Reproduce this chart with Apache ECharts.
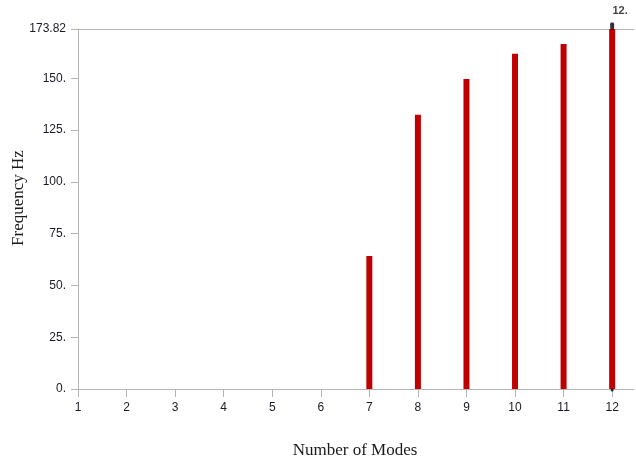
<!DOCTYPE html>
<html>
<head>
<meta charset="utf-8">
<script src="https://cdn.jsdelivr.net/npm/echarts@6/dist/echarts.min.js"></script>
<style>html,body{margin:0;padding:0;background:#fff;}#c{width:636px;height:464px;}</style>
</head>
<body>
<div id="c"></div>
<script>
const modes = [1, 2, 3, 4, 5, 6, 7, 8, 9, 10, 11, 12];
const frequencies = [0, 0, 0, 0, 0, 0, 64.2, 132.4, 149.7, 161.9, 166.6, 173.82];
const yTicks = [0, 25, 50, 75, 100, 125, 150, 173.82];
const yTickLabels = ['0.', '25.', '50.', '75.', '100.', '125.', '150.', '173.82'];
const selectedMode = 12;

const chart = echarts.init(document.getElementById('c'), null, {renderer: 'canvas'});
const axisColor = '#b4b4b4';
const labelFont = {fontFamily: 'Liberation Sans', fontSize: 12, color: '#1a1a26'};
const barData = modes.map((m, i) => [m, frequencies[i]]);
const selIdx = modes.indexOf(selectedMode);

chart.setOption({
  animation: false,
  grid: {left: 78, right: 2, top: 29, bottom: 75},
  xAxis: [{
    type: 'value', min: 1, max: 12.45, position: 'bottom',
    axisLine: {show: true, lineStyle: {color: axisColor, width: 1}},
    axisTick: {show: true, length: 8, lineStyle: {color: axisColor}, customValues: modes},
    axisLabel: Object.assign({customValues: modes, margin: 13, formatter: v => String(v)}, labelFont),
    splitLine: {show: false}
  }, {
    type: 'value', min: 1, max: 12.45, position: 'top',
    axisLine: {show: true, onZero: false, lineStyle: {color: axisColor, width: 1}},
    axisTick: {show: false}, axisLabel: {show: false}, splitLine: {show: false}
  }],
  yAxis: {
    type: 'value', min: 0, max: 173.82,
    axisLine: {show: true, lineStyle: {color: axisColor, width: 1}},
    axisTick: {show: true, length: 7, lineStyle: {color: axisColor}, customValues: yTicks},
    axisLabel: Object.assign({customValues: yTicks, margin: 12,
      formatter: v => { const i = yTicks.findIndex(t => Math.abs(t - v) < 1e-6); return i >= 0 ? yTickLabels[i] : ''; }
    }, labelFont),
    splitLine: {show: false}
  },
  graphic: [
    {type: 'text', x: 19, y: 198, rotation: Math.PI / 2,
      style: {text: 'Frequency Hz', fontFamily: 'Liberation Serif', fontSize: 17, fill: '#1a1a1a', align: 'center', verticalAlign: 'middle'}},
    {type: 'text', x: 355, y: 451,
      style: {text: 'Number of Modes', fontFamily: 'Liberation Serif', fontSize: 17, fill: '#1a1a1a', align: 'center', verticalAlign: 'middle'}}
  ],
  series: [{
    type: 'bar', data: barData, barWidth: 6,
    itemStyle: {color: '#c00000'}
  }, {
    type: 'scatter', data: [barData[selIdx]],
    symbol: 'roundRect', symbolSize: [4, 7], symbolOffset: [0, -3],
    itemStyle: {color: '#000'},
    label: {show: true, position: 'top', offset: [8, -1], formatter: p => p.data[0] + '.',
      fontFamily: 'Liberation Sans', fontSize: 11, fontWeight: 'bold', color: '#111'}
  }, {
    type: 'scatter', data: [[selectedMode, 0]],
    symbol: 'circle', symbolSize: 3, symbolOffset: [0, 1],
    itemStyle: {color: '#000'}
  }]
});
</script>
</body>
</html>
